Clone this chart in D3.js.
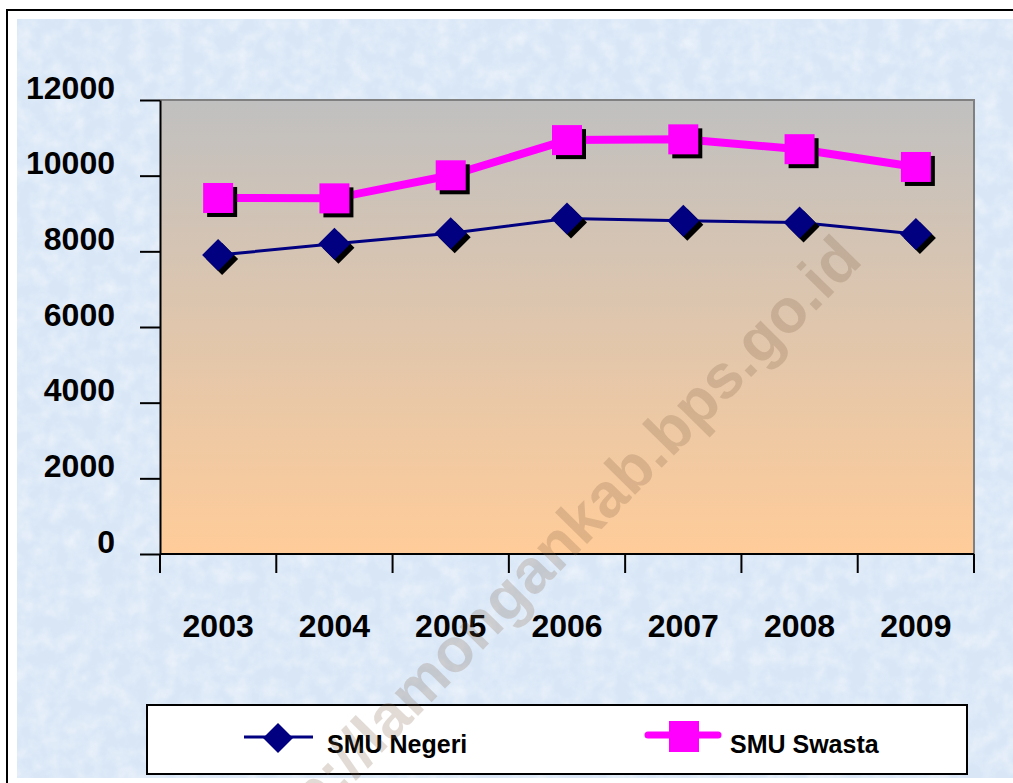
<!DOCTYPE html>
<html>
<head>
<meta charset="utf-8">
<script src="https://cdn.jsdelivr.net/npm/d3@7"></script>
<style>
  body { margin: 0; background: #fff; }
  svg { display: block; }
  text { font-family: "Liberation Sans", Arial, sans-serif; font-weight: bold; }
</style>
</head>
<body>
<script>
// data
var years = ["2003", "2004", "2005", "2006", "2007", "2008", "2009"];
var negeri = [7900, 8200, 8480, 8870, 8810, 8760, 8460];
var swasta = [9410, 9400, 10010, 10940, 10960, 10700, 10230];
var yTicks = [0, 2000, 4000, 6000, 8000, 10000, 12000];
var seriesNames = ["SMU Negeri", "SMU Swasta"];

var W = 1013, H = 783;
var svg = d3.select("body").append("svg").attr("width", W).attr("height", H);
var defs = svg.append("defs");

// plot gradient, grey at top to peach at the bottom
var grad = defs.append("linearGradient").attr("id", "plotGrad")
  .attr("x1", 0).attr("y1", 0).attr("x2", 0).attr("y2", 1);
grad.append("stop").attr("offset", "0%").attr("stop-color", "#c0c0c0");
grad.append("stop").attr("offset", "100%").attr("stop-color", "#ffcc99");

// paper texture-ish background (subtle)
var filt = defs.append("filter").attr("id", "paper").attr("x", 0).attr("y", 0).attr("width", 1).attr("height", 1);
filt.append("feTurbulence").attr("type", "fractalNoise").attr("baseFrequency", 0.06).attr("numOctaves", 3).attr("seed", 4).attr("result", "n");
filt.append("feColorMatrix").attr("in", "n").attr("type", "matrix")
  .attr("values", "0 0 0 0 0.97  0 0 0 0 0.98  0 0 0 0 1  0 0 0 -1.6 1.05");

// outer frame
svg.append("rect").attr("x", 7).attr("y", 10).attr("width", W + 20).attr("height", H + 20)
  .attr("fill", "#fff").attr("stroke", "#000").attr("stroke-width", 2);
svg.append("rect").attr("x", 17).attr("y", 19).attr("width", W - 17).attr("height", 778 - 19)
  .attr("fill", "#d8e6f6");
svg.append("rect").attr("x", 17).attr("y", 19).attr("width", W - 17).attr("height", 778 - 19)
  .attr("filter", "url(#paper)").attr("opacity", 0.55);

var pLeft = 160, pRight = 974, pTop = 100, pBottom = 554;

var x = d3.scaleBand().domain(years).range([pLeft, pRight]);
var y = d3.scaleLinear().domain([0, 12000]).range([pBottom, pTop]);

// plot area
svg.append("rect").attr("x", pLeft).attr("y", pTop).attr("width", pRight - pLeft).attr("height", pBottom - pTop)
  .attr("fill", "url(#plotGrad)");
svg.append("path").attr("d", "M" + pLeft + "," + pTop + "H" + pRight + "V" + pBottom)
  .attr("fill", "none").attr("stroke", "#808080").attr("stroke-width", 2);

// y axis
var yAxis = svg.append("g").attr("transform", "translate(" + pLeft + ",0)")
  .call(d3.axisLeft(y).tickValues(yTicks).tickSize(20).tickSizeOuter(0).tickPadding(25).tickFormat(d3.format("d")));
yAxis.selectAll("path, line").attr("stroke", "#000").attr("stroke-width", 2);
yAxis.selectAll("text").attr("font-size", 32).attr("fill", "#000").attr("dy", "-0.06em")
  .style("font-family", "'Liberation Sans', Arial, sans-serif");

// x axis, ticks at the category boundaries
var xAxis = svg.append("g").attr("transform", "translate(0," + pBottom + ")");
xAxis.append("line").attr("x1", pLeft).attr("x2", pRight).attr("stroke", "#000").attr("stroke-width", 2);
xAxis.selectAll(".tk").data(years.concat(["end"])).enter().append("line")
  .attr("x1", function(d, i) { return i < years.length ? x(d) : pRight; })
  .attr("x2", function(d, i) { return i < years.length ? x(d) : pRight; })
  .attr("y1", 0).attr("y2", 19).attr("stroke", "#000").attr("stroke-width", 2);
xAxis.selectAll(".lbl").data(years).enter().append("text")
  .attr("x", function(d) { return x(d) + x.bandwidth() / 2; })
  .attr("y", 83).attr("text-anchor", "middle").attr("font-size", 32).text(function(d) { return d; });

var cx = function(d, i) { return x(years[i]) + x.bandwidth() / 2; };
var line = d3.line().x(cx).y(function(d) { return y(d); });

// SMU Negeri
svg.append("path").datum(negeri).attr("d", line).attr("fill", "none").attr("stroke", "#000080").attr("stroke-width", 3);
var diamond = function(px, py, r) {
  return "M" + px + "," + (py - r) + "L" + (px + r) + "," + py + "L" + px + "," + (py + r) + "L" + (px - r) + "," + py + "Z";
};
svg.selectAll(".dshadow").data(negeri).enter().append("path")
  .attr("d", function(d, i) { return diamond(cx(d, i) + 4, y(d) + 4, 16); }).attr("fill", "#000");
svg.selectAll(".dmark").data(negeri).enter().append("path")
  .attr("d", function(d, i) { return diamond(cx(d, i), y(d), 16); }).attr("fill", "#000080");

// SMU Swasta
svg.append("path").datum(swasta).attr("d", line).attr("fill", "none").attr("stroke", "#ff00ff").attr("stroke-width", 8);
svg.selectAll(".sshadow").data(swasta).enter().append("rect")
  .attr("x", function(d, i) { return cx(d, i) - 15 + 4; }).attr("y", function(d) { return y(d) - 15 + 4; })
  .attr("width", 30).attr("height", 30).attr("fill", "#000");
svg.selectAll(".smark").data(swasta).enter().append("rect")
  .attr("x", function(d, i) { return cx(d, i) - 15; }).attr("y", function(d) { return y(d) - 15; })
  .attr("width", 30).attr("height", 30).attr("fill", "#ff00ff");

// legend
var lg = svg.append("g");
lg.append("rect").attr("x", 147).attr("y", 705).attr("width", 820).attr("height", 69)
  .attr("fill", "#fff").attr("stroke", "#000").attr("stroke-width", 2);
lg.append("line").attr("x1", 244).attr("x2", 313).attr("y1", 737).attr("y2", 737).attr("stroke", "#000080").attr("stroke-width", 3);
lg.append("path").attr("d", diamond(278, 738, 15)).attr("fill", "#000080");
lg.append("text").attr("x", 327).attr("y", 753).attr("font-size", 25).text(seriesNames[0]);
lg.append("line").attr("x1", 648).attr("x2", 718).attr("y1", 735).attr("y2", 735)
  .attr("stroke", "#ff00ff").attr("stroke-width", 7).attr("stroke-linecap", "round");
lg.append("rect").attr("x", 669).attr("y", 721).attr("width", 30).attr("height", 31).attr("fill", "#ff00ff");
lg.append("text").attr("x", 730).attr("y", 753).attr("font-size", 25).text(seriesNames[1]);

// watermark
svg.append("text").attr("transform", "translate(864,262) rotate(-45.5)")
  .attr("text-anchor", "end")
  .attr("font-size", 62).attr("fill", "#7a5a40").attr("fill-opacity", 0.22)
  .text("http://lamongankab.bps.go.id");
</script>
</body>
</html>
